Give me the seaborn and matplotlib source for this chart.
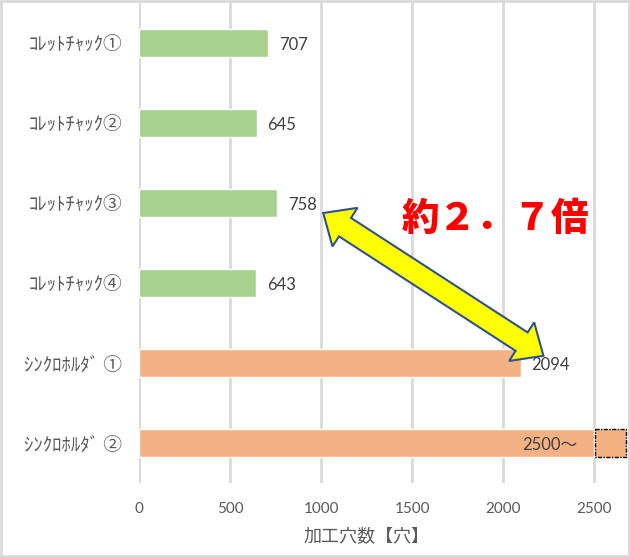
import matplotlib
matplotlib.use("Agg")
import matplotlib.pyplot as plt
import seaborn as sns
import pandas as pd
import numpy as np
from matplotlib.patches import Rectangle, Polygon

# data
labels = ["ｺﾚｯﾄﾁｬｯｸ①", "ｺﾚｯﾄﾁｬｯｸ②", "ｺﾚｯﾄﾁｬｯｸ③", "ｺﾚｯﾄﾁｬｯｸ④",
          "ｼﾝｸﾛﾎﾙﾀﾞ ①", "ｼﾝｸﾛﾎﾙﾀﾞ ②"]
values = [707, 645, 758, 643, 2094, 2500]
groups = ["collet"] * 4 + ["synchro"] * 2
value_text = ["707", "645", "758", "643", "2094", "2500～"]
xticks = [0, 500, 1000, 1500, 2000, 2500]

df = pd.DataFrame({"label": labels, "holes": values, "group": groups})

sns.set_style("white")
plt.rcParams["font.family"] = ["Noto Sans CJK JP", "DejaVu Sans"]

fig = plt.figure(figsize=(6.3, 5.57), dpi=100)
ax = fig.add_axes([139 / 630, 1 - 483 / 557, 489 / 630, 480 / 557])

sns.barplot(data=df, x="holes", y="label", hue="group", orient="h",
            palette={"collet": "#A9D18E", "synchro": "#F4B183"},
            dodge=False, width=0.35, legend=False, ax=ax, saturation=1)

ax.set_xlim(0, 2684)
ax.set_ylim(5.5, -0.5)
ax.set_xticks(xticks)
ax.grid(axis="x", color="#D9D9D9", lw=2)
ax.set_axisbelow(True)
for s in ax.spines.values():
    s.set_visible(False)
ax.tick_params(axis="both", length=0, colors="#595959")
ax.tick_params(axis="x", pad=14, labelsize=11)
ax.tick_params(axis="y", pad=12, labelsize=13.5)
for t in ax.get_xticklabels():
    t.set_family(["Lato", "Noto Sans CJK JP"])
ax.set_ylabel("")
ax.set_xlabel("加工穴数【穴】", fontsize=13, color="#595959")
ax.xaxis.set_label_coords(1250 / 2684, -0.092)

# value labels
for i, (v, t) in enumerate(zip(values, value_text)):
    if i == len(values) - 1:
        ax.text(v - 95, i + 0.02, t, ha="right", va="center", fontsize=12, color="#404040",
                family=["Lato", "Noto Sans CJK JP"])
    else:
        ax.annotate(t, (v, i + 0.02), xytext=(8, 0), textcoords="offset points",
                    ha="left", va="center", fontsize=12, color="#404040",
                    family=["Lato", "Noto Sans CJK JP"])

# dashed extension of the last bar
ax.add_patch(Rectangle((2505, 5 - 0.175), 168, 0.35, facecolor="#F4B183",
                       edgecolor="black", lw=1, linestyle=(0, (3, 1, 1, 1)), zorder=3))

# double-headed block arrow between the 758 and 2094 labels
fig.canvas.draw()
p1 = ax.transData.transform((1011, 2.125))
p2 = ax.transData.transform((2220, 3.91))
d = (p2 - p1) / np.linalg.norm(p2 - p1)
n = np.array([-d[1], d[0]])
hl, hw, sw = 26, 23, 11
b1 = p1 + d * hl
b2 = p2 - d * hl
pts = [p1, b1 + n * hw, b1 + n * sw, b2 + n * sw, b2 + n * hw, p2,
       b2 - n * hw, b2 - n * sw, b1 - n * sw, b1 - n * hw]
ax.add_patch(Polygon(pts, closed=True, transform=None, facecolor="#FFFF00",
                     edgecolor="#2F528F", lw=1.5, zorder=5, clip_on=False))

ax.text(1956, 2.2, "約２．７倍", ha="center", va="center", fontsize=27,
        color="#FF0000", fontweight="heavy", zorder=6)

# chart border
fig.add_artist(Rectangle((0.002, 0.002), 0.996, 0.996, transform=fig.transFigure,
                         fill=False, edgecolor="#D9D9D9", lw=2))

fig.savefig("out.png", dpi=100)
